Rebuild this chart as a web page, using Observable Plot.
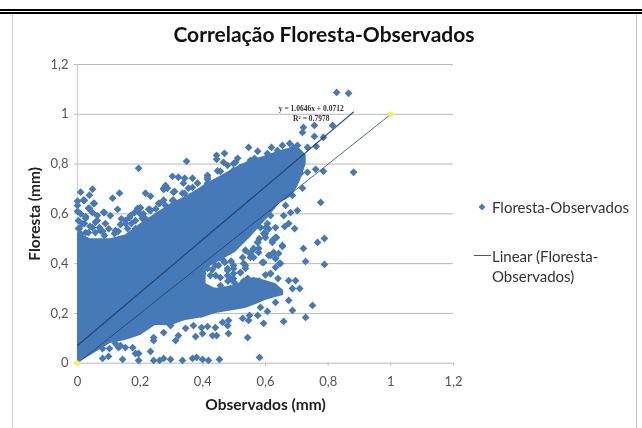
<!DOCTYPE html>
<html lang="pt"><head><meta charset="utf-8">
<script src="https://cdn.jsdelivr.net/npm/d3@7"></script>
<script src="https://cdn.jsdelivr.net/npm/@observablehq/plot@0.6"></script>
<style>
html,body{margin:0;padding:0;background:#fff;}
#page{position:relative;width:642px;height:428px;overflow:hidden;font-family:Lato,sans-serif;filter:blur(0.4px);}
#page svg{display:block;}
.abs{position:absolute;}
#title{left:0;width:648px;top:21px;text-align:center;font-size:21px;font-weight:700;color:#111;line-height:26px;}
.leg{left:492px;font-size:15px;color:#333;line-height:20px;white-space:nowrap;}
</style></head><body>
<div id="page">
<div class="abs" style="left:0;top:9px;width:642px;height:1.5px;background:#000"></div>
<div class="abs" style="left:0;top:11.5px;width:642px;height:2px;background:#000"></div>
<div class="abs" style="left:12px;top:14px;width:1px;height:414px;background:#d4d4d4"></div>
<div class="abs" style="left:635.5px;top:14px;width:1.2px;height:414px;background:#bdbdbd"></div>
<div id="chart" class="abs" style="left:0;top:0"></div>
<div id="title" class="abs">Correlação Floresta-Observados</div>
<svg class="abs" style="left:477px;top:202px" width="10" height="10"><path d="M5 1.5L8.5 5L5 8.5L1.5 5Z" fill="#4a7ebb"/></svg>
<div class="abs leg" style="top:197px">Floresta-Observados</div>
<div class="abs" style="left:474px;top:255px;width:17px;height:1px;background:#555"></div>
<div class="abs leg" style="top:246px">Linear (Floresta-</div>
<div class="abs leg" style="top:266px">Observados)</div>
</div>
<script>
const tickValues = [0, 0.2, 0.4, 0.6, 0.8, 1, 1.2];

// Dense part of the cloud, read as an envelope
const bodyX  = [0,.041,.105,.153,.201,.249,.297,.345,.386,.409,.411,.447,.504,.520,.552,.594,.606,.648,.664,.680,.699,.712,.730];
const bodyHi = [.525,.50,.50,.515,.56,.60,.64,.67,.70,.72,.722,.745,.785,.795,.815,.83,.835,.855,.86,.865,.87,.86,.835];
const bodyLo = [0,.03,.079,.091,.111,.151,.15,.172,.18,.188,.38,.405,.445,.465,.505,.565,.58,.646,.655,.668,.70,.734,.80];
const lobeX  = [.393,.441,.498,.536,.562,.600,.632,.658];
const lobeHi = [.33,.30,.312,.332,.344,.332,.320,.292];
const lobeLo = [.18,.20,.212,.22,.232,.252,.264,.272];

// Individually visible points
const obs = [.718,.776,.686,.664,.702,.680,.658,.616,.674,.661,.693,.606,.584,.632,.594,.635,.600,.622,.575,.654,.788,.766,.721,.626,.610,.578,.562,.536,.552,.527,.632,.594,.645,.632,.728,.788,.616,.674,.696,.536,.498,.536,.479,.520,.498,.543,.466,.440,.415,.488,.456,.686,.709,.674,.686,.750,.728,.658,.594,.606,.584,.632,.575,.549,.546,.527,.543,.482,.463,.479,.440,.415,.396,.482,.431,.444,.399,.581,.453,.418,.399,.380,.367,.335,.297,.275,.262,.243,.195,.144,.195,.185,.233,.099,.080,.102,.080,.176,.153,.131,.243,.243,.313,.322,.377,.827,.865,.814,.756,.721,.718,.756,.785,.762,.734,.702,.677,.654,.619,.575,.546,.469,.444,.444,.511,.504,.466,.479,.520,.552,.565,.610,.498,.456,.415,.415,.760,.785,.881,.734,.712,.195,.348,.303,.322,.342,.367,.338,.383,.354,.275,.287,.306,.335,.415,.386,.415,.010,.048,.038,.019,0,0,.051,.112,.134,.217,.233,.035,.128,.259,.227,.192,.083,0,.306,.335,.275,.026,.057,.105,.153,.169,.073,.035,.121,.185,.233,.217,.003,.003,.048,.281,
.479,.498,.520,.543,.562,.536,.575,.600,.622,.632,.654,.642,.632,.648,.616,.616,.590,.488,.520,.575,.626,.456,.424,.393,.371,.424,.498,.479,.450,.530,.441,.559,.578,
.022,.038,.054,.026,.063,.086,.063,.089,.048,.070,.022,.006,.026,.057,.118,.086,.137,.153,.172,.160,.185,.207,.185,.227,.166,.192,.201,.182,.230,.262,.303,.310,.342,.281,.275,.367,
.447,.498,.552,.606,.638,.689,.121,.137,.275,.297,.345,.370,
.01,.015,.01,.04,.08,.10,.13,.14,.20,.21,.25,
.40,.43,.47,.49,.55,.58,.60,.61,.48,.50,.53,.58,.60,.64,.44];
const flo = [.703,.646,.674,.634,.613,.605,.593,.593,.561,.549,.541,.561,.545,.545,.521,.505,.505,.485,.485,.469,.501,.485,.461,.445,.433,.445,.461,.453,.425,.425,.421,.405,.401,.385,.409,.397,.360,.332,.332,.393,.393,.381,.372,.364,.360,.340,.413,.393,.381,.340,.344,.300,.300,.252,.212,.232,.184,.168,.160,.208,.224,.244,.192,.192,.172,.180,.103,.172,.164,.151,.143,.147,.143,.119,.111,.111,.119,.023,.015,.011,.015,.023,.019,.011,.015,.019,.011,.011,.011,.015,.039,.039,.047,.027,.019,.059,.059,.063,.063,.063,.091,.103,.091,.111,.107,1.088,1.084,.955,.955,.947,.927,.911,.907,.871,.867,.875,.883,.875,.867,.851,.867,.843,.835,.819,.823,.807,.807,.795,.787,.807,.823,.835,.775,.771,.755,.739,.779,.771,.767,.767,.763,.783,.811,.751,.747,.743,.743,.723,.723,.703,.703,.703,.687,.683,.747,.687,.723,.687,.699,.675,.655,.651,.634,.642,.663,.683,.683,.671,.622,.618,.642,.618,.622,.606,.610,.655,.642,.655,.582,.566,.593,.573,.593,.533,.525,.533,.541,.613,.581,.573,.541,.605,.634,
.352,.380,.364,.340,.425,.453,.485,.521,.493,.505,.473,.441,.421,.401,.360,.433,.405,.300,.312,.300,.300,.312,.284,.324,.340,.352,.340,.380,.393,.401,.352,.453,.461,
.654,.622,.642,.589,.593,.605,.573,.561,.545,.545,.561,.541,.525,.525,.521,.513,.557,.561,.561,.541,.533,.581,.573,.561,.585,.613,.625,.605,.618,.642,.654,.690,.682,.714,.698,.706,
.773,.802,.815,.842,.855,.867,.079,.071,.123,.151,.14,.151,
.60,.56,.52,.55,.53,.54,.53,.58,.60,.60,.62,
.36,.375,.405,.41,.44,.50,.545,.54,.33,.325,.33,.33,.355,.34,.29];

const trendX = [0, .881];
const trendY = [.0712, 1.009];
const idealX = [0, 1];
const idealY = [0, 1];
const equationLines = ["y = 1.0646x + 0.0712", "R² = 0.7978"];
const equationX = [.746, .746];
const equationY = [1.022, .982];

const blue = "#4679b8";
const fmt = d => String(d).replace(".", ",");
const idx = a => a.map((_, i) => i);

const plot = Plot.plot({
  width: 642, height: 428,
  marginLeft: 77, marginRight: 189, marginTop: 64, marginBottom: 65.3,
  style: {background: "transparent", overflow: "visible"},
  x: {domain: [0, 1.2]},
  y: {domain: [0, 1.2]},
  marks: [
    Plot.ruleY(tickValues, {stroke: "#b8b8b8", strokeWidth: 1}),
    Plot.ruleX([0], {stroke: "#cfcfcf", strokeWidth: 1.2}),
    Plot.axisX({ticks: tickValues, tickFormat: fmt, tickSize: 3, tickPadding: 11, stroke: "#bbb",
      color: "#555", fontSize: 13, fontFamily: "Lato", label: null}),
    Plot.axisY({ticks: tickValues, tickFormat: fmt, tickSize: 3, tickPadding: 6, stroke: "#bbb",
      color: "#555", fontSize: 13, fontFamily: "Lato", label: null}),
    Plot.areaY(idx(bodyX), {x: i => bodyX[i], y1: i => bodyLo[i], y2: i => bodyHi[i], fill: blue}),
    Plot.areaY(idx(lobeX), {x: i => lobeX[i], y1: i => lobeLo[i], y2: i => lobeHi[i], fill: blue}),
    Plot.dot(idx(obs), {x: i => obs[i], y: i => flo[i], symbol: "diamond2", r: 3.5, fill: blue}),
    Plot.line(idx(trendX), {x: i => trendX[i], y: i => trendY[i], stroke: "#1f3a68", strokeWidth: 1.2, strokeOpacity: .85}),
    Plot.line(idx(idealX), {x: i => idealX[i], y: i => idealY[i], stroke: "#1f3a68", strokeWidth: 1, strokeOpacity: .75}),
    Plot.dot(idx(idealX), {x: i => idealX[i], y: i => idealY[i], r: 2.6, fill: "#f4f43c"}),
    Plot.text(equationLines, {x: (d, i) => equationX[i], y: (d, i) => equationY[i], text: d => d,
      fontFamily: "Liberation Serif", fontSize: 7.5, fontWeight: 700, fill: "#333"}),
    Plot.text(["Observados (mm)"], {frameAnchor: "bottom", dy: 47, fontSize: 15.5, fontWeight: 700,
      fontFamily: "Lato", fill: "#222"}),
    Plot.text(["Floresta (mm)"], {frameAnchor: "left", textAnchor: "middle", dx: -42, rotate: -90, fontSize: 15.5, fontWeight: 700,
      fontFamily: "Lato", fill: "#222"})
  ]
});
document.getElementById("chart").append(plot);
</script>
</body></html>
